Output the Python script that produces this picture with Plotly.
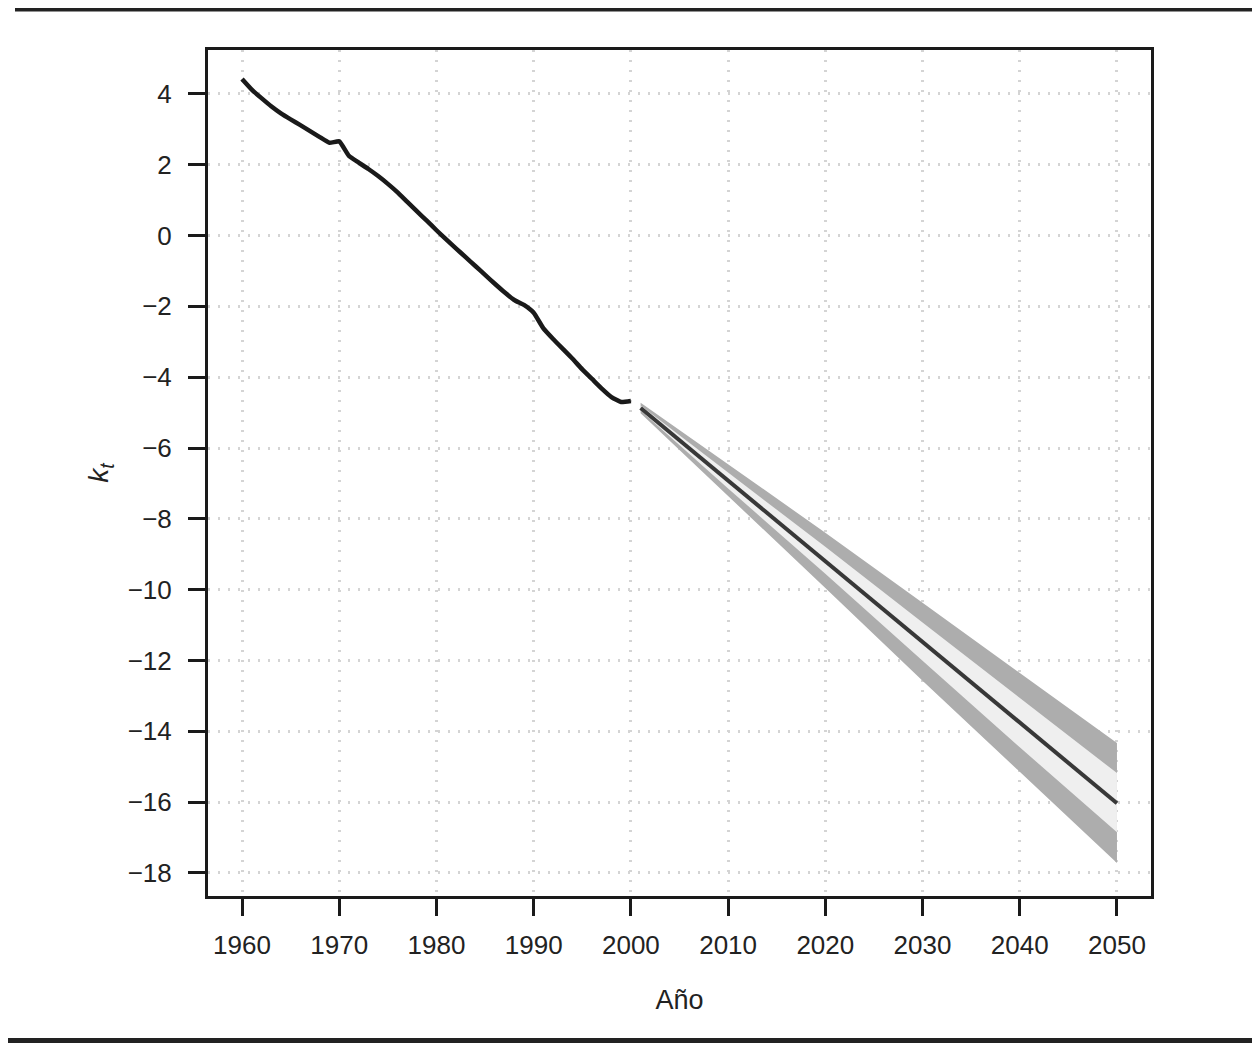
import plotly.graph_objects as go

# Historical k_t
hist_years = list(range(1960, 2001))
hist_kt = [4.42, 4.12, 3.88, 3.65, 3.45, 3.28, 3.12, 2.95, 2.78, 2.62,
           2.66, 2.25, 2.06, 1.88, 1.68, 1.46, 1.22, 0.95, 0.68, 0.42,
           0.15, -0.11, -0.36, -0.61, -0.86, -1.11, -1.36, -1.60, -1.82, -1.96,
           -2.18, -2.62, -2.92, -3.20, -3.48, -3.78, -4.05, -4.32, -4.56, -4.70,
           -4.67]

# Forecast (central) and intervals
fc_years = [2001, 2010, 2020, 2030, 2040, 2050]
fc_mean = [-4.87, -6.92, -9.17, -11.47, -13.75, -16.03]
fc_outer_hi = [-4.72, -6.47, -8.39, -10.37, -12.35, -14.33]
fc_outer_lo = [-5.02, -7.37, -9.95, -12.57, -15.15, -17.72]
fc_inner_hi = [-4.80, -6.70, -8.79, -10.93, -13.05, -15.18]
fc_inner_lo = [-4.94, -7.14, -9.55, -12.01, -14.45, -16.85]

x_ticks = [1960, 1970, 1980, 1990, 2000, 2010, 2020, 2030, 2040, 2050]
y_ticks = [4, 2, 0, -2, -4, -6, -8, -10, -12, -14, -16, -18]
y_tick_text = [str(v).replace("-", "\u2212") for v in y_ticks]

fig = go.Figure()

fig.add_trace(go.Scatter(
    x=fc_years + fc_years[::-1], y=fc_outer_hi + fc_outer_lo[::-1],
    fill="toself", fillcolor="#adadad", line=dict(width=0), mode="lines",
    hoverinfo="skip", showlegend=False))
fig.add_trace(go.Scatter(
    x=fc_years + fc_years[::-1], y=fc_inner_hi + fc_inner_lo[::-1],
    fill="toself", fillcolor="#efefef", line=dict(width=0), mode="lines",
    hoverinfo="skip", showlegend=False))
fig.add_trace(go.Scatter(
    x=fc_years, y=fc_mean, mode="lines",
    line=dict(color="#383838", width=4), showlegend=False))
fig.add_trace(go.Scatter(
    x=hist_years, y=hist_kt, mode="lines",
    line=dict(color="#1a1a1a", width=4.5, shape="spline", smoothing=0.4),
    showlegend=False))

font_color = "#222222"

# The page adds an 8px body margin, so the figure is 8px smaller than the window
FIG_W, FIG_H = 1252, 1036
ML, MT = 200, 42
PLOT_W, PLOT_H = 943, 846
MR = FIG_W - ML - PLOT_W
MB = FIG_H - MT - PLOT_H

fig.update_layout(
    width=FIG_W, height=FIG_H,
    margin=dict(l=ML, r=MR, t=MT, b=MB),
    paper_bgcolor="white", plot_bgcolor="white",
    font=dict(family="Liberation Sans, Arial, sans-serif", size=26, color=font_color),
    showlegend=False,
)

grid_style = dict(showgrid=True, gridcolor="#d4d4d4", gridwidth=2.5,
                  griddash="2px,8px", zeroline=False)

fig.update_xaxes(
    range=[1956.5, 2053.5],
    tickvals=x_ticks, ticktext=[str(v) for v in x_ticks],
    showline=True, mirror=True, linecolor="#1a1a1a", linewidth=3,
    ticks="outside", ticklen=17, tickwidth=3, tickcolor="#1a1a1a",
    ticklabelstandoff=7,
    title=dict(text="Año", font=dict(size=27), standoff=31),
    **grid_style,
)
fig.update_yaxes(
    range=[-18.65, 5.24],
    tickvals=y_ticks, ticktext=y_tick_text,
    showline=True, mirror=True, linecolor="#1a1a1a", linewidth=3,
    ticks="outside", ticklen=17, tickwidth=3, tickcolor="#1a1a1a",
    ticklabelstandoff=11,
    title=dict(text="<i>k<sub>t</sub></i>", font=dict(size=28), standoff=11),
    **grid_style,
)

# Page rules (top and bottom), positioned in figure pixels
def px_to_paper_x(px):
    return (px - ML) / PLOT_W
def px_to_paper_y(py):
    return (FIG_H - MB - py) / PLOT_H

fig.add_shape(type="line", xref="paper", yref="paper",
              x0=px_to_paper_x(7), x1=px_to_paper_x(FIG_W),
              y0=px_to_paper_y(1.5), y1=px_to_paper_y(1.5),
              line=dict(color="#222222", width=4))
fig.add_shape(type="line", xref="paper", yref="paper",
              x0=px_to_paper_x(0), x1=px_to_paper_x(FIG_W),
              y0=px_to_paper_y(1032.5), y1=px_to_paper_y(1032.5),
              line=dict(color="#222222", width=5))

fig.write_html("out.html")
